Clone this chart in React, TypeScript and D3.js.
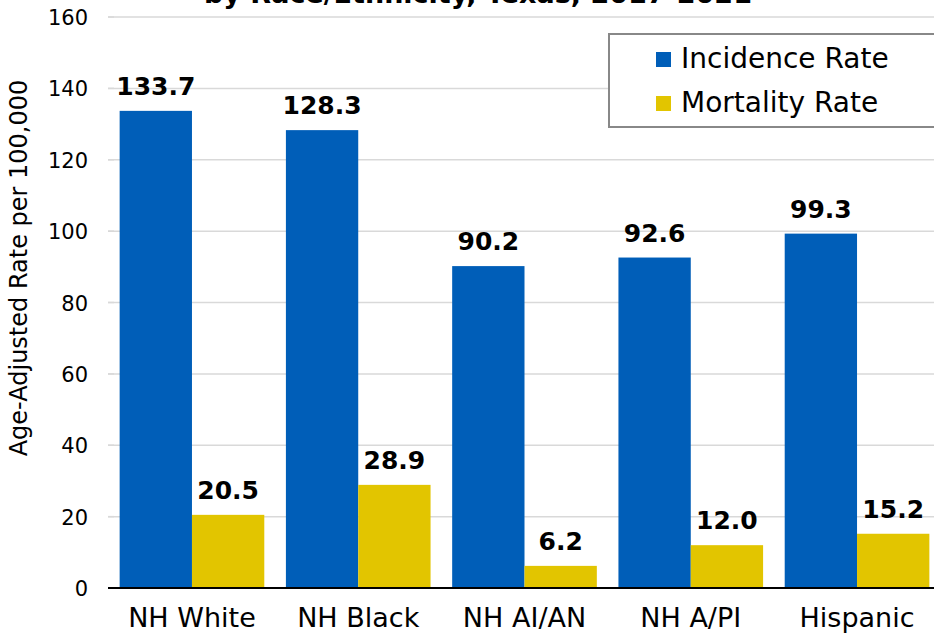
import React from "react";
import * as d3 from "d3";

const categories = ["NH White", "NH Black", "NH AI/AN", "NH A/PI", "Hispanic"];
const incidence = [133.7, 128.3, 90.2, 92.6, 99.3];
const mortality = [20.5, 28.9, 6.2, 12.0, 15.2];
const seriesNames = ["Incidence Rate", "Mortality Rate"];
const yTicks = [0, 20, 40, 60, 80, 100, 120, 140, 160];
const titleLine = "by Race/Ethnicity, Texas, 2017-2021";

const W = 934;
const H = 633;
const colors = ["#005EB8", "#E2C500"];
const font = "'DejaVu Sans', Verdana, sans-serif";

export default function App() {
  const x0 = d3.scaleBand<string>().domain(categories).range([108, 941]).paddingInner(0.13).paddingOuter(0.07);
  const x1 = d3.scaleBand<number>().domain([0, 1]).range([0, x0.bandwidth()]);
  const y = d3.scaleLinear().domain([0, 160]).range([588, 17]);
  const series = [incidence, mortality];

  return (
    <svg width={W} height={H} style={{ position: "absolute", left: 0, top: 0, background: "#fff" }} fontFamily={font}>
      <text x={478} y={3} textAnchor="middle" fontWeight="bold" fontSize={27}>{titleLine}</text>
      {yTicks.map((t) => (
        <g key={t}>
          {t > 0 && <line x1={108} x2={W} y1={y(t)} y2={y(t)} stroke="#d9d9d9" strokeWidth={1.5} />}
          <line x1={108} x2={114} y1={y(t)} y2={y(t)} stroke={t === 0 ? "#000" : "#d9d9d9"} strokeWidth={1.5} />
          <text x={88} y={y(t) + 8} textAnchor="end" fontSize={21} fill="#000">{t}</text>
        </g>
      ))}
      {categories.map((c, i) => (
        <g key={c}>
          {series.map((s, j) => {
            const bx = (x0(c) as number) + (x1(j) as number);
            return (
              <g key={j}>
                <rect x={bx} y={y(s[i])} width={x1.bandwidth()} height={y(0) - y(s[i])} fill={colors[j]} />
                <text x={bx + x1.bandwidth() / 2} y={y(s[i]) - 16} textAnchor="middle" fontWeight="bold" fontSize={25}>
                  {s[i].toFixed(1)}
                </text>
              </g>
            );
          })}
          <text x={(x0(c) as number) + x0.bandwidth() / 2} y={627} textAnchor="middle" fontSize={27}>{c}</text>
        </g>
      ))}
      <line x1={108} x2={W} y1={y(0)} y2={y(0)} stroke="#000" strokeWidth={2} />
      <text transform={`translate(27,268) rotate(-90)`} textAnchor="middle" fontSize={24}>
        Age-Adjusted Rate per 100,000
      </text>
      <rect x={609} y={34} width={340} height={93} fill="#fff" stroke="#888" strokeWidth={2} />
      {seriesNames.map((n, j) => (
        <g key={n}>
          <rect x={656} y={52 + j * 44} width={15} height={15} fill={colors[j]} />
          <text x={681} y={68 + j * 44} fontSize={28}>{n}</text>
        </g>
      ))}
    </svg>
  );
}
